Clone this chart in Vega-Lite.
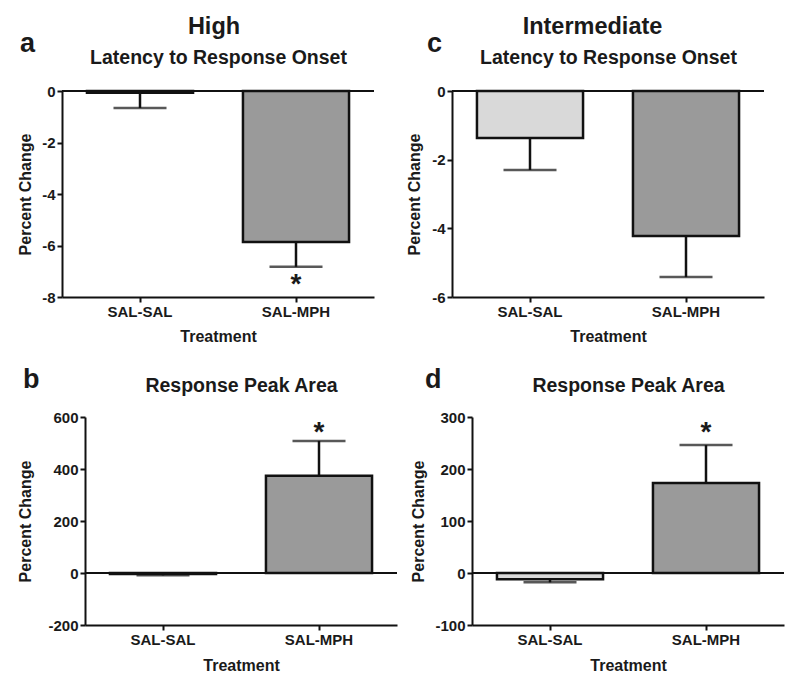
{
  "$schema": "https://vega.github.io/schema/vega-lite/v6.json",
  "background": "white",
  "padding": {"left": 10, "top": 14, "right": 2, "bottom": 2},
  "datasets": {
    "bars": [
      {"panel": "a", "treatment": "SAL-SAL", "mean": -0.07, "err_end": -0.66, "sig": ""},
      {"panel": "a", "treatment": "SAL-MPH", "mean": -5.86, "err_end": -6.83, "sig": "*"},
      {"panel": "c", "treatment": "SAL-SAL", "mean": -1.37, "err_end": -2.3, "sig": ""},
      {"panel": "c", "treatment": "SAL-MPH", "mean": -4.22, "err_end": -5.42, "sig": ""},
      {"panel": "b", "treatment": "SAL-SAL", "mean": -4, "err_end": -9, "sig": ""},
      {"panel": "b", "treatment": "SAL-MPH", "mean": 374, "err_end": 508, "sig": "*"},
      {"panel": "d", "treatment": "SAL-SAL", "mean": -12, "err_end": -18, "sig": ""},
      {"panel": "d", "treatment": "SAL-MPH", "mean": 173, "err_end": 246, "sig": "*"}
    ],
    "spacer": [{"s": 0}]
  },
  "config": {
    "font": "Liberation Sans",
    "view": {"stroke": null},
    "axis": {
      "labelFont": "Liberation Sans", "titleFont": "Liberation Sans",
      "labelFontSize": 15, "titleFontSize": 16,
      "labelFontWeight": "bold", "titleFontWeight": "bold",
      "labelColor": "#1a1a1a", "titleColor": "#1a1a1a",
      "domainColor": "#111111", "domainWidth": 2,
      "tickColor": "#111111", "tickWidth": 2, "tickSize": 5,
      "labelPadding": 2, "grid": false
    },
    "title": {"font": "Liberation Sans", "fontWeight": "bold", "color": "#1a1a1a"}
  },
  "columns": 1,
  "align": "none",
  "spacing": 22,
  "concat": [
    {
      "spacing": 0,
      "hconcat": [
        {"width": 1, "height": 1, "data": {"name": "spacer"}, "mark": {"type": "point", "opacity": 0}, "encoding": {}},
        {
          "spacing": 31,
          "hconcat": [
            {
              "title": {"text": "High", "fontSize": 23.5, "anchor": "middle", "offset": -8, "dx": 18},
              "vconcat": [
                {
                  "width": 312, "height": 206,
                  "title": {"text": "a", "anchor": "start", "frame": "bounds", "fontSize": 27, "dx": 3, "offset": -11},
                  "data": {"name": "bars"},
                  "transform": [{"filter": "datum.panel === 'a'"}],
                  "layer": [
                    {"mark": {"type": "rule", "color": "#111111", "strokeWidth": 2}, "encoding": {"y": {"datum": 0, "type": "quantitative"}}},
                    {"mark": {"type": "bar", "stroke": "#111111", "strokeWidth": 2.5},
                     "encoding": {
                       "x": {"field": "treatment", "type": "nominal", "sort": ["SAL-SAL", "SAL-MPH"], "scale": {"paddingInner": 0.32, "paddingOuter": 0.16}, "axis": {"title": "Treatment", "labelAngle": 0, "titlePadding": 9}},
                       "y": {"field": "mean", "type": "quantitative", "scale": {"domain": [-8, 0], "nice": false, "zero": false}, "axis": {"title": "Percent Change", "values": [-8, -6, -4, -2, 0], "labelExpr": "'' + datum.value", "minExtent": 22, "maxExtent": 22, "titlePadding": 7}},
                       "fill": {"field": "treatment", "type": "nominal", "scale": {"domain": ["SAL-SAL", "SAL-MPH"], "range": ["#d9d9d9", "#9a9a9a"]}, "legend": null}
                     }},
                    {"mark": {"type": "rule", "color": "#111111", "strokeWidth": 2.5}, "encoding": {"x": {"field": "treatment", "type": "nominal", "sort": ["SAL-SAL", "SAL-MPH"], "axis": null}, "y": {"field": "mean", "type": "quantitative"}, "y2": {"field": "err_end"}}},
                    {"mark": {"type": "tick", "color": "#111111", "thickness": 2.5, "size": 53}, "encoding": {"x": {"field": "treatment", "type": "nominal", "sort": ["SAL-SAL", "SAL-MPH"], "axis": null}, "y": {"field": "err_end", "type": "quantitative"}}},
                    {"mark": {"type": "text", "fontSize": 28, "fontWeight": "bold", "color": "#1a1a1a", "baseline": "middle", "dy": 18},
                     "encoding": {
                       "x": {"field": "treatment", "type": "nominal", "sort": ["SAL-SAL", "SAL-MPH"], "axis": {"orient": "top", "title": "Latency to Response Onset", "titleFontSize": 19.5, "labels": false, "ticks": false, "domain": false, "minExtent": 0, "maxExtent": 0, "titlePadding": 24}},
                       "y": {"field": "err_end", "type": "quantitative"},
                       "text": {"field": "sig"}
                     }}
                  ],
                  "resolve": {"axis": {"x": "independent"}}
                }
              ]
            },
            {
              "title": {"text": "Intermediate", "fontSize": 23.5, "anchor": "middle", "offset": -8, "dx": 7},
              "vconcat": [
                {
                  "width": 312, "height": 206,
                  "title": {"text": "c", "anchor": "start", "frame": "bounds", "fontSize": 27, "dx": 21, "offset": -11},
                  "data": {"name": "bars"},
                  "transform": [{"filter": "datum.panel === 'c'"}],
                  "layer": [
                    {"mark": {"type": "rule", "color": "#111111", "strokeWidth": 2}, "encoding": {"y": {"datum": 0, "type": "quantitative"}}},
                    {"mark": {"type": "bar", "stroke": "#111111", "strokeWidth": 2.5},
                     "encoding": {
                       "x": {"field": "treatment", "type": "nominal", "sort": ["SAL-SAL", "SAL-MPH"], "scale": {"paddingInner": 0.32, "paddingOuter": 0.16}, "axis": {"title": "Treatment", "labelAngle": 0, "titlePadding": 9}},
                       "y": {"field": "mean", "type": "quantitative", "scale": {"domain": [-6, 0], "nice": false, "zero": false}, "axis": {"title": "Percent Change", "values": [-6, -4, -2, 0], "labelExpr": "'' + datum.value", "minExtent": 22, "maxExtent": 22, "titlePadding": 8}},
                       "fill": {"field": "treatment", "type": "nominal", "scale": {"domain": ["SAL-SAL", "SAL-MPH"], "range": ["#d9d9d9", "#9a9a9a"]}, "legend": null}
                     }},
                    {"mark": {"type": "rule", "color": "#111111", "strokeWidth": 2.5}, "encoding": {"x": {"field": "treatment", "type": "nominal", "sort": ["SAL-SAL", "SAL-MPH"], "axis": null}, "y": {"field": "mean", "type": "quantitative"}, "y2": {"field": "err_end"}}},
                    {"mark": {"type": "tick", "color": "#111111", "thickness": 2.5, "size": 53}, "encoding": {"x": {"field": "treatment", "type": "nominal", "sort": ["SAL-SAL", "SAL-MPH"], "axis": null}, "y": {"field": "err_end", "type": "quantitative"}}},
                    {"mark": {"type": "text", "fontSize": 28, "fontWeight": "bold", "color": "#1a1a1a", "baseline": "middle", "dy": 18},
                     "encoding": {
                       "x": {"field": "treatment", "type": "nominal", "sort": ["SAL-SAL", "SAL-MPH"], "axis": {"orient": "top", "title": "Latency to Response Onset", "titleFontSize": 19.5, "labels": false, "ticks": false, "domain": false, "minExtent": 0, "maxExtent": 0, "titlePadding": 24}},
                       "y": {"field": "err_end", "type": "quantitative"},
                       "text": {"field": "sig"}
                     }}
                  ],
                  "resolve": {"axis": {"x": "independent"}}
                }
              ]
            }
          ]
        }
      ]
    },
    {
      "spacing": 0,
      "hconcat": [
        {"width": 1, "height": 1, "data": {"name": "spacer"}, "mark": {"type": "point", "opacity": 0}, "encoding": {}},
        {
          "spacing": 12,
          "hconcat": [
            {
              "width": 312, "height": 208,
              "title": {"text": "b", "anchor": "start", "frame": "bounds", "fontSize": 27, "dx": 6, "offset": -19},
              "data": {"name": "bars"},
              "transform": [{"filter": "datum.panel === 'b'"}],
              "layer": [
                {"mark": {"type": "rule", "color": "#111111", "strokeWidth": 2}, "encoding": {"y": {"datum": 0, "type": "quantitative"}}},
                {"mark": {"type": "bar", "stroke": "#111111", "strokeWidth": 2.5},
                 "encoding": {
                   "x": {"field": "treatment", "type": "nominal", "sort": ["SAL-SAL", "SAL-MPH"], "scale": {"paddingInner": 0.32, "paddingOuter": 0.16}, "axis": {"title": "Treatment", "labelAngle": 0, "titlePadding": 10}},
                   "y": {"field": "mean", "type": "quantitative", "scale": {"domain": [-200, 600], "nice": false, "zero": false}, "axis": {"title": "Percent Change", "values": [-200, 0, 200, 400, 600], "labelExpr": "'' + datum.value", "minExtent": 40, "maxExtent": 40, "titlePadding": 12}},
                   "fill": {"field": "treatment", "type": "nominal", "scale": {"domain": ["SAL-SAL", "SAL-MPH"], "range": ["#d9d9d9", "#9a9a9a"]}, "legend": null}
                 }},
                {"mark": {"type": "rule", "color": "#111111", "strokeWidth": 2.5}, "encoding": {"x": {"field": "treatment", "type": "nominal", "sort": ["SAL-SAL", "SAL-MPH"], "axis": null}, "y": {"field": "mean", "type": "quantitative"}, "y2": {"field": "err_end"}}},
                {"mark": {"type": "tick", "color": "#111111", "thickness": 2.5, "size": 53}, "encoding": {"x": {"field": "treatment", "type": "nominal", "sort": ["SAL-SAL", "SAL-MPH"], "axis": null}, "y": {"field": "err_end", "type": "quantitative"}}},
                {"mark": {"type": "text", "fontSize": 28, "fontWeight": "bold", "color": "#1a1a1a", "baseline": "middle", "dy": -8},
                 "encoding": {
                   "x": {"field": "treatment", "type": "nominal", "sort": ["SAL-SAL", "SAL-MPH"], "axis": {"orient": "top", "title": "Response Peak Area", "titleFontSize": 19.5, "labels": false, "ticks": false, "domain": false, "minExtent": 0, "maxExtent": 0, "titlePadding": 22}},
                   "y": {"field": "err_end", "type": "quantitative"},
                   "text": {"field": "sig"}
                 }}
              ],
              "resolve": {"axis": {"x": "independent"}}
            },
            {
              "width": 312, "height": 208,
              "title": {"text": "d", "anchor": "start", "frame": "bounds", "fontSize": 27, "dx": 15, "offset": -19},
              "data": {"name": "bars"},
              "transform": [{"filter": "datum.panel === 'd'"}],
              "layer": [
                {"mark": {"type": "rule", "color": "#111111", "strokeWidth": 2}, "encoding": {"y": {"datum": 0, "type": "quantitative"}}},
                {"mark": {"type": "bar", "stroke": "#111111", "strokeWidth": 2.5},
                 "encoding": {
                   "x": {"field": "treatment", "type": "nominal", "sort": ["SAL-SAL", "SAL-MPH"], "scale": {"paddingInner": 0.32, "paddingOuter": 0.16}, "axis": {"title": "Treatment", "labelAngle": 0, "titlePadding": 10}},
                   "y": {"field": "mean", "type": "quantitative", "scale": {"domain": [-100, 300], "nice": false, "zero": false}, "axis": {"title": "Percent Change", "values": [-100, 0, 100, 200, 300], "labelExpr": "'' + datum.value", "minExtent": 40, "maxExtent": 40, "titlePadding": 6}},
                   "fill": {"field": "treatment", "type": "nominal", "scale": {"domain": ["SAL-SAL", "SAL-MPH"], "range": ["#d9d9d9", "#9a9a9a"]}, "legend": null}
                 }},
                {"mark": {"type": "rule", "color": "#111111", "strokeWidth": 2.5}, "encoding": {"x": {"field": "treatment", "type": "nominal", "sort": ["SAL-SAL", "SAL-MPH"], "axis": null}, "y": {"field": "mean", "type": "quantitative"}, "y2": {"field": "err_end"}}},
                {"mark": {"type": "tick", "color": "#111111", "thickness": 2.5, "size": 53}, "encoding": {"x": {"field": "treatment", "type": "nominal", "sort": ["SAL-SAL", "SAL-MPH"], "axis": null}, "y": {"field": "err_end", "type": "quantitative"}}},
                {"mark": {"type": "text", "fontSize": 28, "fontWeight": "bold", "color": "#1a1a1a", "baseline": "middle", "dy": -12},
                 "encoding": {
                   "x": {"field": "treatment", "type": "nominal", "sort": ["SAL-SAL", "SAL-MPH"], "axis": {"orient": "top", "title": "Response Peak Area", "titleFontSize": 19.5, "labels": false, "ticks": false, "domain": false, "minExtent": 0, "maxExtent": 0, "titlePadding": 22}},
                   "y": {"field": "err_end", "type": "quantitative"},
                   "text": {"field": "sig"}
                 }}
              ],
              "resolve": {"axis": {"x": "independent"}}
            }
          ]
        }
      ]
    }
  ]
}
